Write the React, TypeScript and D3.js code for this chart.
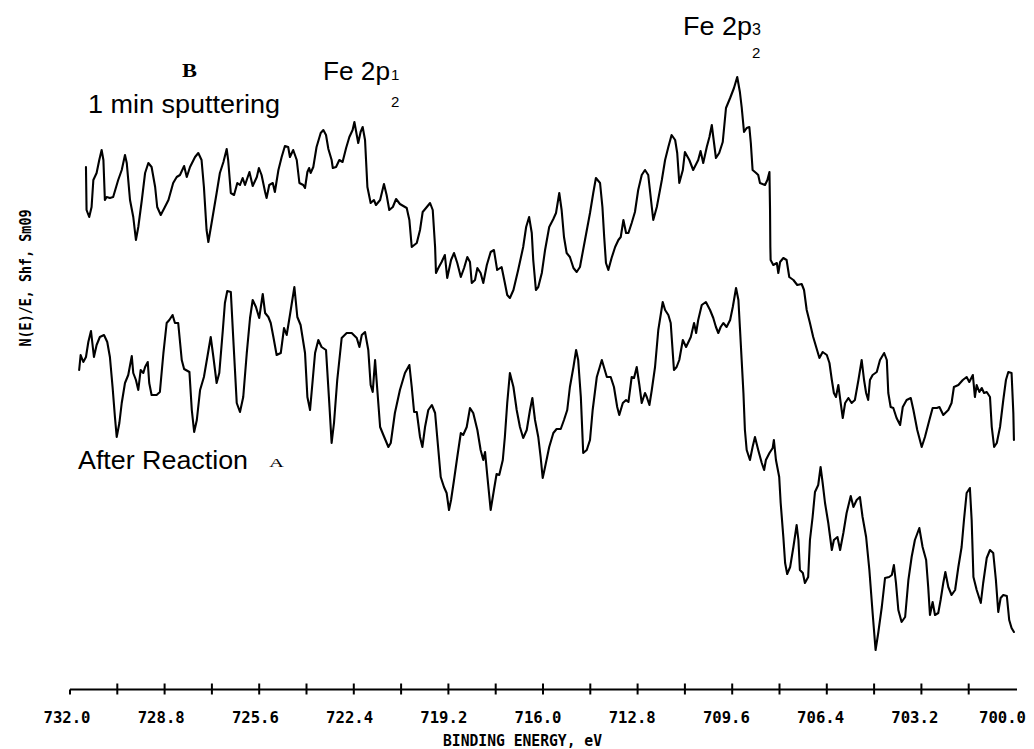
import React from "react";
import * as d3 from "d3";

// Fe 2p XPS spectra: binding energy (eV) and intensity (arbitrary units)
const energyB = [
  731.46, 731.44, 731.35, 731.27, 731.21, 731.10, 731.01, 730.93, 730.87, 730.82,
  730.76, 730.65, 730.54, 730.37, 730.25, 730.14, 730.08, 729.97, 729.86, 729.77,
  729.69, 729.57, 729.46, 729.35, 729.24, 729.12, 729.05, 728.93, 728.79, 728.67,
  728.51, 728.39, 728.28, 728.14, 728.05, 727.94, 727.77, 727.66, 727.55, 727.47,
  727.38, 727.32, 727.21, 727.04, 726.93, 726.81, 726.70, 726.65, 726.56, 726.45,
  726.34, 726.25, 726.16, 726.08, 725.93, 725.82, 725.68, 725.61, 725.52, 725.40,
  725.35, 725.26, 725.14, 725.07, 724.95, 724.84, 724.73, 724.62, 724.56, 724.45,
  724.33, 724.24, 724.11, 724.05, 723.97, 723.91, 723.86, 723.77, 723.66, 723.52,
  723.43, 723.34, 723.26, 723.15, 723.11, 723.00, 722.89, 722.78, 722.66, 722.55,
  722.44, 722.38, 722.30, 722.25, 722.17, 722.10, 722.02, 721.94, 721.83, 721.72,
  721.65, 721.51, 721.38, 721.29, 721.20, 721.08, 720.97, 720.84, 720.61, 720.52,
  720.44, 720.27, 720.16, 720.07, 719.93, 719.82, 719.73, 719.65, 719.62, 719.54,
  719.43, 719.32, 719.24, 719.11, 719.01, 718.90, 718.78, 718.67, 718.56, 718.47,
  718.41, 718.30, 718.22, 718.11, 718.02, 717.90, 717.77, 717.66, 717.55, 717.40,
  717.29, 717.21, 717.12, 717.00, 716.84, 716.67, 716.57, 716.47, 716.38, 716.33,
  716.24, 716.16, 716.04, 715.93, 715.79, 715.65, 715.56, 715.45, 715.37, 715.29,
  715.20, 715.09, 714.97, 714.86, 714.75, 714.58, 714.41, 714.30, 714.21, 714.07,
  713.99, 713.93, 713.87, 713.79, 713.68, 713.56, 713.45, 713.37, 713.28, 713.19,
  713.11, 713.00, 712.89, 712.78, 712.66, 712.55, 712.44, 712.32, 712.27, 712.15,
  711.98, 711.87, 711.76, 711.65, 711.53, 711.46, 711.39, 711.27, 711.20, 711.05,
  710.92, 710.75, 710.67, 710.58, 710.46, 710.37, 710.29, 710.24, 710.15, 710.04,
  709.92, 709.81, 709.67, 709.54, 709.43, 709.34, 709.28, 709.20, 709.11, 709.02,
  708.97, 708.91, 708.79, 708.72, 708.66, 708.49, 708.41, 708.34, 708.32, 708.31,
  708.30, 708.21, 708.09, 708.04, 707.98, 707.87, 707.76, 707.67, 707.53, 707.40,
  707.25, 707.17, 707.08, 706.97, 706.86, 706.76, 706.65, 706.54, 706.40, 706.31,
  706.23, 706.16, 706.09, 706.01, 705.93, 705.86, 705.78, 705.67, 705.56, 705.45,
  705.33, 705.22, 705.14, 705.07, 705.00, 704.94, 704.85, 704.71, 704.60, 704.46,
  704.37, 704.32, 704.24, 704.15, 704.04, 703.92, 703.83, 703.70, 703.56, 703.47,
  703.34, 703.19, 703.08, 702.93, 702.82, 702.68, 702.59, 702.46, 702.29, 702.18,
  702.10, 701.95, 701.80, 701.67, 701.58, 701.46, 701.39, 701.33, 701.24, 701.16,
  701.08, 700.99, 700.88, 700.82, 700.74, 700.65, 700.54, 700.43, 700.34, 700.26,
  700.15, 700.09, 700.07,
];

const countsB = [
  522, 479, 472, 482, 509, 516, 529, 539, 529, 489,
  492, 491, 492, 509, 519, 534, 526, 489, 472, 449,
  462, 489, 516, 526, 522, 502, 482, 474, 482, 489,
  506, 512, 514, 523, 512, 522, 532, 536, 529, 502,
  459, 447, 466, 496, 516, 527, 540, 529, 496, 494,
  506, 504, 511, 504, 517, 503, 512, 521, 514, 497,
  491, 504, 506, 497, 519, 532, 543, 542, 532, 539,
  529, 506, 504, 501, 517, 521, 516, 522, 542, 556,
  559, 554, 540, 529, 521, 522, 529, 527, 541, 552,
  559, 567, 554, 546, 557, 562, 549, 502, 486, 489,
  484, 489, 505, 494, 479, 482, 490, 485, 481, 469,
  442, 446, 459, 477, 482, 486, 479, 442, 416, 421,
  427, 434, 411, 429, 436, 426, 412, 421, 432, 427,
  406, 409, 421, 416, 406, 424, 437, 439, 419, 422,
  406, 394, 391, 399, 419, 442, 462, 472, 456, 429,
  399, 402, 416, 439, 462, 470, 476, 496, 479, 452,
  436, 432, 421, 417, 422, 449, 476, 496, 511, 506,
  482, 452, 426, 419, 431, 442, 449, 452, 469, 456,
  456, 466, 477, 499, 514, 519, 514, 482, 469, 482,
  509, 529, 542, 554, 549, 536, 506, 519, 537, 529,
  519, 529, 538, 526, 542, 552, 564, 552, 531, 536,
  547, 581, 591, 601, 612, 597, 582, 557, 561, 562,
  546, 519, 516, 514, 506, 504, 509, 517, 479, 442,
  429, 424, 426, 416, 427, 431, 429, 412, 409, 404,
  405, 399, 379, 366, 352, 342, 331, 337, 334, 326,
  309, 296, 292, 304, 286, 271, 286, 291, 286, 289,
  309, 329, 309, 296, 289, 309, 314, 317, 329, 336,
  329, 296, 282, 281, 271, 264, 282, 289, 291, 279,
  259, 242, 252, 269, 281, 281, 282, 274, 279, 286,
  302, 304, 309, 312, 307, 314, 292, 304, 297, 301,
  296, 297, 292, 262, 242, 246, 262, 289, 309, 317,
  316, 276, 249,
];

const energyA = [
  731.69, 731.64, 731.55, 731.46, 731.38, 731.29, 731.19, 731.10, 730.99, 730.85,
  730.74, 730.65, 730.56, 730.48, 730.42, 730.33, 730.25, 730.14, 730.03, 729.91,
  729.86, 729.77, 729.69, 729.61, 729.52, 729.46, 729.37, 729.32, 729.24, 729.07,
  728.96, 728.84, 728.73, 728.64, 728.53, 728.45, 728.34, 728.22, 728.14, 727.96,
  727.88, 727.80, 727.71, 727.60, 727.47, 727.36, 727.24, 727.15, 727.04, 726.95,
  726.83, 726.76, 726.68, 726.56, 726.48, 726.36, 726.25, 726.14, 726.02, 725.91,
  725.82, 725.71, 725.60, 725.48, 725.40, 725.29, 725.21, 725.12, 725.01, 724.87,
  724.76, 724.67, 724.56, 724.41, 724.31, 724.20, 724.05, 723.97, 723.88, 723.79,
  723.71, 723.60, 723.49, 723.34, 723.23, 723.15, 723.07, 722.96, 722.81, 722.64,
  722.47, 722.30, 722.21, 722.13, 722.02, 721.91, 721.83, 721.76, 721.68, 721.63,
  721.51, 721.40, 721.23, 721.15, 721.01, 720.84, 720.67, 720.52, 720.44, 720.36,
  720.27, 720.16, 720.08, 719.99, 719.88, 719.76, 719.65, 719.54, 719.46, 719.35,
  719.26, 719.18, 719.11, 719.01, 718.90, 718.78, 718.70, 718.58, 718.47, 718.36,
  718.22, 718.11, 718.02, 717.96, 717.88, 717.77, 717.66, 717.57, 717.48, 717.36,
  717.29, 717.21, 717.12, 717.00, 716.89, 716.78, 716.67, 716.55, 716.44, 716.36,
  716.27, 716.16, 716.08, 716.01, 715.93, 715.79, 715.65, 715.54, 715.40, 715.29,
  715.18, 715.09, 714.97, 714.88, 714.81, 714.72, 714.64, 714.52, 714.41, 714.32,
  714.18, 714.01, 713.94, 713.84, 713.71, 713.60, 713.49, 713.42, 713.30, 713.19,
  713.11, 713.00, 712.92, 712.83, 712.74, 712.66, 712.55, 712.49, 712.40, 712.32,
  712.21, 712.10, 711.95, 711.87, 711.76, 711.68, 711.57, 711.48, 711.39, 711.27,
  711.16, 711.00, 710.89, 710.82, 710.75, 710.63, 710.49, 710.35, 710.24, 710.15,
  710.07, 709.99, 709.90, 709.79, 709.67, 709.58, 709.47, 709.39, 709.34, 709.28,
  709.22, 709.17, 709.11, 709.00, 708.91, 708.83, 708.72, 708.60, 708.52, 708.46,
  708.34, 708.23, 708.19, 708.12, 708.01, 707.96, 707.87, 707.81, 707.74, 707.64,
  707.53, 707.42, 707.36, 707.31, 707.21, 707.14, 707.03, 706.97, 706.88, 706.80,
  706.69, 706.61, 706.54, 706.46, 706.35, 706.23, 706.16, 706.04, 705.95, 705.84,
  705.73, 705.59, 705.50, 705.39, 705.28, 705.19, 705.07, 704.96, 704.85, 704.75,
  704.66, 704.54, 704.43, 704.29, 704.20, 704.13, 704.06, 703.98, 703.87, 703.75,
  703.64, 703.53, 703.42, 703.27, 703.16, 703.04, 702.97, 702.91, 702.82, 702.74,
  702.63, 702.55, 702.46, 702.39, 702.29, 702.18, 702.06, 701.95, 701.84, 701.76,
  701.67, 701.56, 701.50, 701.44, 701.33, 701.19, 701.11, 700.99, 700.88, 700.77,
  700.68, 700.60, 700.52, 700.43, 700.31, 700.23, 700.15, 700.07,
];

const countsA = [
  319, 334, 327, 332, 347, 358, 332, 344, 352, 354,
  347, 332, 302, 272, 252, 266, 286, 306, 314, 333,
  316, 309, 299, 319, 316, 322, 327, 306, 294, 294,
  297, 336, 366, 369, 374, 366, 366, 329, 320, 317,
  279, 257, 269, 299, 312, 331, 352, 332, 306, 316,
  359, 386, 398, 397, 352, 286, 277, 292, 336, 371,
  389, 382, 371, 395, 376, 372, 366, 352, 334, 336,
  361, 354, 374, 402, 372, 364, 336, 292, 279, 309,
  336, 349, 342, 339, 286, 246, 266, 309, 351, 356,
  356, 351, 342, 354, 357, 339, 304, 297, 329, 309,
  262, 254, 242, 246, 276, 299, 316, 324, 302, 277,
  277, 252, 242, 262, 279, 284, 276, 239, 212, 202,
  196, 179, 189, 209, 232, 256, 254, 262, 281, 276,
  259, 239, 229, 237, 212, 179, 199, 215, 214, 229,
  252, 286, 316, 302, 279, 262, 251, 259, 279, 291,
  269, 252, 232, 211, 222, 242, 256, 260, 260, 269,
  279, 302, 322, 339, 329, 292, 236, 239, 249, 279,
  312, 329, 322, 312, 312, 302, 282, 274, 286, 289,
  287, 312, 311, 322, 304, 286, 296, 292, 284, 299,
  322, 359, 387, 379, 374, 366, 319, 322, 329, 349,
  342, 352, 366, 356, 369, 384, 387, 379, 371, 362,
  356, 362, 366, 362, 369, 382, 401, 389, 362, 329,
  296, 259, 239, 229, 242, 252, 239, 226, 219, 229,
  236, 241, 249, 229, 212, 186, 152, 126, 115, 122,
  142, 164, 149, 119, 116, 106, 112, 149, 172, 197,
  204, 222, 206, 186, 166, 139, 149, 152, 139, 156,
  176, 193, 182, 189, 192, 172, 152, 119, 76, 39,
  56, 82, 111, 112, 114, 124, 106, 79, 67, 72,
  109, 132, 149, 161, 142, 129, 102, 74, 87, 74,
  76, 89, 106, 117, 102, 94, 99, 122, 142, 169,
  196, 201, 169, 112, 99, 86, 106, 131, 139, 136,
  109, 77, 91, 94, 93, 69, 61, 57,
];

const tickLabels = [732.0, 728.8, 725.6, 722.4, 719.2, 716.0, 712.8, 709.6, 706.4, 703.2, 700.0];
const minorTicks = [
  730.4, 728.8, 727.2, 725.6, 724.0, 722.4, 720.8, 719.2, 717.6, 716.0,
  714.4, 712.8, 711.2, 709.6, 708.0, 706.4, 704.8, 703.2, 701.6,
];

const W = 1034;
const H = 749;
const MONO = "'DejaVu Sans Mono', monospace";
const SANS = "'Liberation Sans', Arial, sans-serif";
const SERIF = "'Liberation Serif', 'Times New Roman', serif";

export default function App() {
  const x = d3.scaleLinear().domain([732, 700]).range([70, 1016]);
  const y = d3.scaleLinear().domain([0, 650]).range([689, 39]);
  const axisY = 689.5;
  const labelW = 47;

  const line = d3
    .line<[number, number]>()
    .x((d) => x(d[0]))
    .y((d) => y(d[1]));

  const seriesB = d3.zip(energyB, countsB) as [number, number][];
  const seriesA = d3.zip(energyA, countsA) as [number, number][];

  // tick labels sit slightly left of their ticks; the last one is kept inside the page
  const labelX = (t: number, i: number) =>
    Math.min(x(t) - 3 - i * 0.4, W - 8 - labelW / 2);

  return (
    <svg
      width={W}
      height={H}
      viewBox={`0 0 ${W} ${H}`}
      style={{ position: "absolute", left: 0, top: 0, background: "#fff" }}
    >
      <rect width={W} height={H} fill="#fff" />

      {/* spectra */}
      <g fill="none" stroke="#000" strokeWidth={2.1} strokeLinejoin="round" strokeLinecap="round">
        <path d={line(seriesB) || ""} />
        <path d={line(seriesA) || ""} />
      </g>

      {/* energy axis */}
      <g stroke="#000" strokeWidth={2}>
        <line x1={x(732)} x2={x(700) + 1} y1={axisY} y2={axisY} />
        <line x1={x(732)} x2={x(732)} y1={axisY} y2={axisY + 5} />
        {minorTicks.map((t) => (
          <line key={t} x1={x(t)} x2={x(t)} y1={axisY - 6} y2={axisY + 5} />
        ))}
      </g>
      <g fontFamily={MONO} fontWeight="bold" fontSize={16} fill="#000" textAnchor="middle">
        {tickLabels.map((t, i) => (
          <text key={t} x={labelX(t, i)} y={723} textLength={labelW} lengthAdjust="spacingAndGlyphs">
            {t.toFixed(1)}
          </text>
        ))}
      </g>
      <text
        x={443}
        y={746}
        fontFamily={MONO}
        fontWeight="bold"
        fontSize={15}
        textLength={159}
        lengthAdjust="spacingAndGlyphs"
      >
        BINDING ENERGY, eV
      </text>

      {/* intensity label */}
      <text
        transform="translate(31,278) rotate(-90)"
        textAnchor="middle"
        fontFamily={MONO}
        fontWeight="bold"
        fontSize={16}
        textLength={137}
        lengthAdjust="spacingAndGlyphs"
      >
        N(E)/E, Shf, Sm09
      </text>

      {/* annotations */}
      <g fontFamily={SANS} fill="#000">
        <text x={88} y={113} fontSize={26} textLength={192} lengthAdjust="spacingAndGlyphs">
          1 min sputtering
        </text>
        <text x={323} y={80} fontSize={26} textLength={67} lengthAdjust="spacingAndGlyphs">
          Fe 2p
        </text>
        <text x={391} y={80} fontSize={15}>1</text>
        <text x={391} y={107} fontSize={15}>2</text>

        <text x={683} y={35} fontSize={26} textLength={69} lengthAdjust="spacingAndGlyphs">
          Fe 2p
        </text>
        <text x={752} y={35} fontSize={16}>3</text>
        <text x={752} y={58} fontSize={15}>2</text>

        <text x={78} y={469} fontSize={26} textLength={170} lengthAdjust="spacingAndGlyphs">
          After Reaction
        </text>
      </g>
      <g fontFamily={SERIF} fill="#000">
        <text x={182} y={77} fontSize={18} fontWeight="bold" textLength={15} lengthAdjust="spacingAndGlyphs">
          B
        </text>
        <text x={269} y={467} fontSize={13} textLength={15} lengthAdjust="spacingAndGlyphs">
          A
        </text>
      </g>
    </svg>
  );
}
